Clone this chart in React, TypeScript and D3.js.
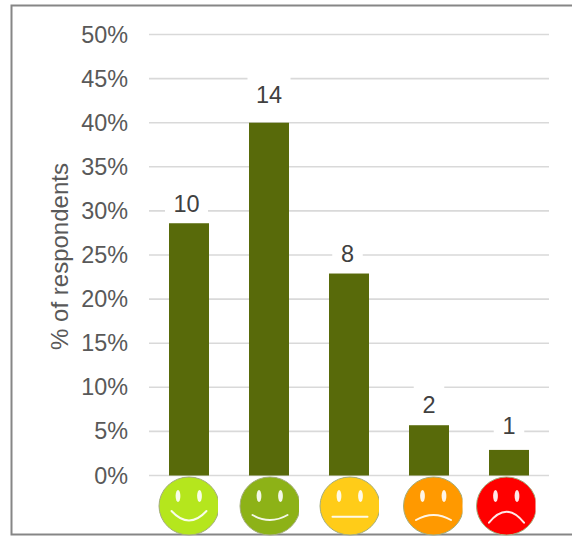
import React from "react";
import * as d3 from "d3";

const categories = ["very happy", "happy", "neutral", "unhappy", "very unhappy"];
const percents = [28.6, 40, 22.9, 5.7, 2.9];
const counts = [10, 14, 8, 2, 1];
const ticks = [0, 5, 10, 15, 20, 25, 30, 35, 40, 45, 50];
const faceColors = ["#b5e61d", "#8db217", "#ffcc18", "#ff9900", "#ff0000"];
const faceCentres = [189, 270, 350, 433.5, 506.5];
const labelLift = [11, 20, 11.5, 12.7, 16];
const labelShift = [-2.5, 0, -1.5, 0, 0];
const mouthEndY = [511, 515, 516.7, 520, 522.7];
const mouthControl = [19, 10, 0, -10, -22];

const W = 572, H = 536;
const x = d3.scaleBand<string>().domain(categories).range([149, 549]).paddingInner(0.5).paddingOuter(0.25);
const y = d3.scaleLinear().domain([0, 50]).range([475.5, 34.5]);
const font = "'Liberation Sans', Arial, sans-serif";

export default function App() {
  return (
    <svg width={W} height={H} style={{ position: "absolute", left: 0, top: 0, background: "#fff" }}>
      <rect x={11.5} y={5.5} width={620} height={529} fill="#fff" stroke="#868686" strokeWidth={2} />
      {ticks.map((t) => (
        <g key={t}>
          <line x1={149} x2={549} y1={y(t)} y2={y(t)} stroke="#d9d9d9" strokeWidth={1.6} />
          <text x={128} y={y(t) + 8} textAnchor="end" fontFamily={font} fontSize={23.4} fill="#595959">{t}%</text>
        </g>
      ))}
      <text transform="translate(68,256.5) rotate(-90)" textAnchor="middle" fontFamily={font} fontSize={24} fill="#595959">% of respondents</text>
      {categories.map((c, i) => {
        const cx = x(c)! + x.bandwidth() / 2;
        const top = y(percents[i]);
        const label = String(counts[i]);
        const tx = cx + labelShift[i];
        const baseline = top - labelLift[i];
        const lw = label.length * 12.5 + 18;
        return (
          <g key={c}>
            <rect x={x(c)} y={top} width={x.bandwidth()} height={y(0) - top} fill="#586a0a" />
            <rect x={tx - lw / 2} y={baseline - 27} width={lw} height={35} fill="#fff" />
            <text x={tx} y={baseline} textAnchor="middle" fontFamily={font} fontSize={23.5} fill="#404040">{label}</text>
          </g>
        );
      })}
      <defs>
        {categories.map((c, i) => (
          <clipPath id={`face-${i}`} key={c}>
            <rect x={faceCentres[i] - 31} y={470} width={60} height={66} />
          </clipPath>
        ))}
      </defs>
      {categories.map((c, i) => {
        const cx = faceCentres[i], cy = 506;
        const my = mouthEndY[i];
        const path = d3.path();
        path.moveTo(cx - 17.5, my);
        path.quadraticCurveTo(cx, my + mouthControl[i], cx + 17.5, my);
        return (
          <g key={c + "-face"} clipPath={`url(#face-${i})`}>
            <ellipse cx={cx} cy={cy} rx={30} ry={29} fill={faceColors[i]} stroke="#a3ad7c" strokeWidth={1} />
            <ellipse cx={cx - 11} cy={496} rx={2.4} ry={6} fill="#fff" fillOpacity={0.9} />
            <ellipse cx={cx + 10.5} cy={496} rx={2.4} ry={6} fill="#fff" fillOpacity={0.9} />
            <path d={path.toString()} fill="none" stroke="#fff" strokeOpacity={0.9} strokeWidth={2} strokeLinecap="round" />
          </g>
        );
      })}
    </svg>
  );
}
